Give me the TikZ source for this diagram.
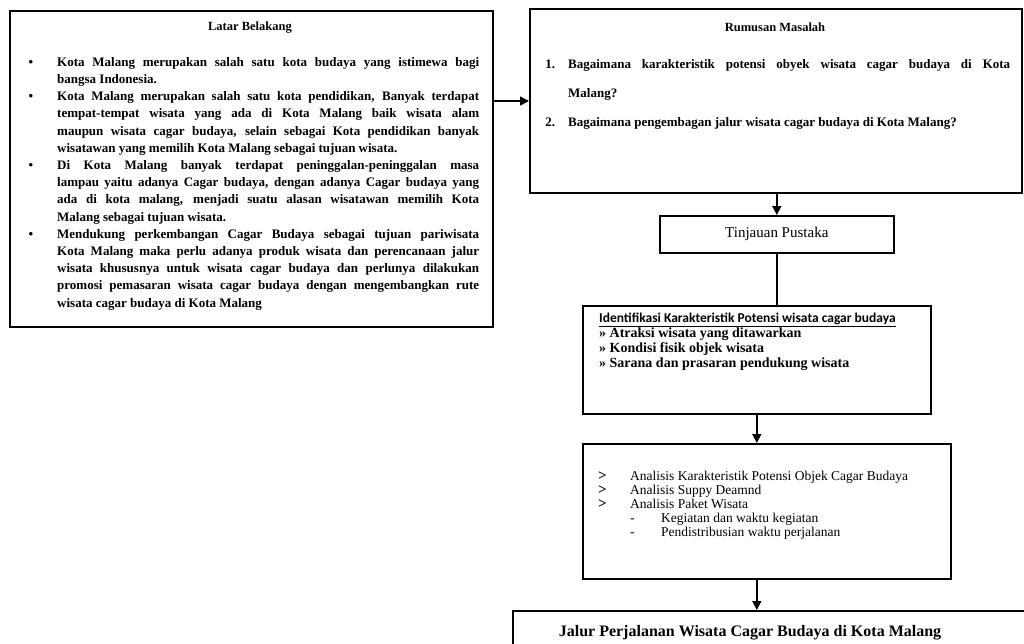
\documentclass[tikz,border=0pt]{standalone}
\usepackage{fontspec}
\setmainfont{Liberation Serif}
\newfontfamily\calib{Carlito}
\usetikzlibrary{arrows.meta,calc}
\setlength{\parindent}{0pt}
\newcommand{\chev}{\makebox[32pt][l]{\textbf{\fontsize{15}{14}\selectfont\textgreater}}}
\begin{document}
\begin{tikzpicture}[x=1pt,y=-1pt,
  box/.style={draw=black,line width=1.6pt,inner sep=0pt,anchor=north west},
  arr/.style={line width=1.5pt,-{Triangle[length=9pt,width=9pt]}},
  ln/.style={line width=1.5pt},
  txt/.style={inner sep=0pt,anchor=north west,align=justify},
  ttl/.style={inner sep=0pt,anchor=center,font=\bfseries\fontsize{12.5}{15}\selectfont},
]
\clip (0,0) rectangle (1024,643);
\fill[white] (0,0) rectangle (1024,643);

% boxes
\node[box,minimum width=483pt,minimum height=316pt] (bg) at (9,10) {};
\node[box,minimum width=492pt,minimum height=184pt] (rm) at (529,8) {};
\node[box,minimum width=234pt,minimum height=37pt] (tin) at (659,215) {};
\node[box,minimum width=348pt,minimum height=108pt] (idf) at (582,305) {};
\node[box,minimum width=368pt,minimum height=135pt] (ana) at (582,443) {};
\node[box,minimum width=540pt,minimum height=60pt] (bot) at (512,610) {};

% Latar Belakang
\node[ttl] (bgtitle) at (250,28) {Latar Belakang};
\node[txt,text width=422pt,font=\bfseries\fontsize{13}{17.2}\selectfont] (bgtext) at (57,57) {%
\noindent\llap{\textbullet\hspace{24pt}}Kota Malang merupakan salah satu kota budaya yang istimewa bagi\linebreak bangsa Indonesia.\par
\noindent\llap{\textbullet\hspace{24pt}}Kota Malang merupakan salah satu kota pendidikan, Banyak terdapat\linebreak tempat-tempat wisata yang ada di Kota Malang baik wisata alam\linebreak maupun wisata cagar budaya, selain sebagai Kota pendidikan banyak\linebreak wisatawan yang memilih Kota Malang sebagai tujuan wisata.\par
\noindent\llap{\textbullet\hspace{24pt}}Di Kota Malang banyak terdapat peninggalan-peninggalan masa\linebreak lampau yaitu adanya Cagar budaya, dengan adanya Cagar budaya yang\linebreak ada di kota malang, menjadi suatu alasan wisatawan memilih Kota\linebreak Malang sebagai tujuan wisata.\par
\noindent\llap{\textbullet\hspace{24pt}}Mendukung perkembangan Cagar Budaya sebagai tujuan pariwisata\linebreak Kota Malang maka perlu adanya produk wisata dan perencanaan jalur\linebreak wisata khususnya untuk wisata cagar budaya dan perlunya dilakukan\linebreak promosi pemasaran wisata cagar budaya dengan mengembangkan rute\linebreak wisata cagar budaya di Kota Malang\par};

% Rumusan Masalah
\node[ttl] (rmtitle) at (775,27) {Rumusan Masalah};
\node[txt,text width=442pt,font=\bfseries\fontsize{13}{29}\selectfont] (rmtext) at (568,59) {%
\noindent\llap{1.\hspace{13pt}}Bagaimana karakteristik potensi obyek wisata cagar budaya di Kota\linebreak Malang?\par
\noindent\llap{2.\hspace{13pt}}Bagaimana pengembagan jalur wisata cagar budaya di Kota Malang?\par};

% Tinjauan Pustaka
\node[inner sep=0pt,font=\fontsize{15}{17}\selectfont] (tintext) at (tin.center) {Tinjauan Pustaka};

% Identifikasi
\node[txt,align=left,font=\bfseries\fontsize{14}{15}\selectfont] (idftext) at (599,313) {%
{\calib\bfseries\fontsize{13.5}{15}\selectfont\underline{Identifikasi Karakteristik Potensi wisata cagar budaya}}\\
» Atraksi wisata yang ditawarkan\\
» Kondisi fisik objek wisata\\
» Sarana dan prasaran pendukung wisata};

% Analisis
\node[txt,align=left,font=\fontsize{13.5}{14}\selectfont] (anatext) at (598,471) {%
\chev Analisis Karakteristik Potensi Objek Cagar Budaya\\
\chev Analisis Suppy Deamnd\\
\chev Analisis Paket Wisata\\
\hspace*{32pt}\makebox[31pt][l]{-}Kegiatan dan waktu kegiatan\\
\hspace*{32pt}\makebox[31pt][l]{-}Pendistribusian waktu perjalanan};

% Jalur
\node[inner sep=0pt,font=\bfseries\fontsize{16}{19}\selectfont] (bottext) at (750,633) {Jalur Perjalanan Wisata Cagar Budaya di Kota Malang};

% connectors
\coordinate (a1) at (492,101);
\draw[arr] (bg.east |- a1) -- (rm.west |- a1);
\draw[arr] (rm.south -| tin.north) -- (tin.north);
\draw[ln] (tin.south) -- (tin.south |- idf.north);
\draw[arr] (idf.south) -- (idf.south |- ana.north);
\draw[arr] (ana.south -| idf.south) -- (bot.north -| idf.south);
\end{tikzpicture}
\end{document}
